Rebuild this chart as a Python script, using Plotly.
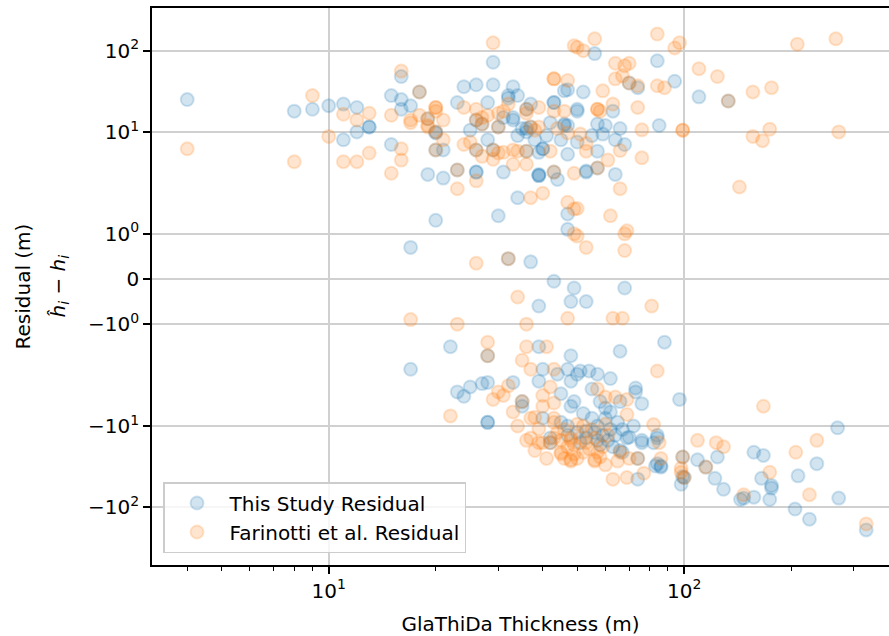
import math
import plotly.graph_objects as go

# ---------------- data ----------------
blue_x = [4, 8, 9, 10, 11, 12, 13, 13, 12, 11, 15, 16, 16, 17, 16, 15, 18, 19, 21, 20, 17, 20, 21, 20,
          24, 26, 29, 29, 23, 28, 25, 28, 23, 26, 26, 31, 34, 30, 32, 33, 34, 47, 50, 43, 43, 42, 47, 36,
          36, 37, 33, 39, 47, 47, 37, 56, 84, 74, 94, 52, 46, 63, 50, 110, 133, 57, 66, 85, 59, 64,
          68, 57, 57, 64, 53, 50, 70, 32, 36, 33, 35, 37, 46, 40, 40, 47, 39, 39, 44, 53, 19, 20, 26, 27,
          30, 32, 46, 26, 29, 36, 39, 43, 31, 34, 41, 45, 38, 55, 60,
          17, 22, 28, 23, 24, 25, 27, 28, 33, 28, 28, 39, 48, 35, 39, 40, 44, 47, 50, 45, 48, 66, 88, 51,
          54, 57, 62, 55, 73, 73, 66, 76, 97, 58, 62, 60, 49, 69, 76, 84, 82, 67, 74, 83, 86, 74, 99, 99,
          98, 109, 115, 124, 122, 129, 53, 59, 63, 68, 49, 48, 53, 39, 43, 270, 157, 167, 236, 209, 165,
          176, 176, 174, 157, 147, 144, 205, 225, 272, 325, 100, 35, 48, 60, 57, 53, 47, 70, 76, 84, 86,
          84, 66, 57, 42, 40, 42, 45, 50, 55, 62, 65, 52, 58, 72, 51, 56, 61, 64, 47, 67]
blue_y = [25, 18, 19, 21, 22, 20, 11.5, 11.5, 10, 8, 28, 48, 25, 21, 19, 7, 31, 3, 2.7, 1.3, 0.7, 9.7, 6, 6,
          36, 38, 72, 38, 23, 23, 10.5, 8, 3.4, 3.2, 3.2, 3.2, 1.8, 1.4, 0.45, 36, 28, 33, 19, 23, 23, 13, 12, 11,
          10, 22, 14, 3, 1.44, 1.1, 0.38, 92, 75, 35, 42, 31, 32, 18, 18, 27, 24, 12.5, 11, 12, 9.4, 8,
          7, 5.8, 3.6, 3.0, 3.2, 7.5, 40, 26, 19, 15, 11, 11.5, 12, 6.2, 6.2, 5.3, 2.9, 2.9, 2.6, 3.3, 14.5, 10, 14, 12.5,
          11.5, 28, 12.5, 6, 6, 5.8, 5.6, 3.2, 15, 9, 9, 8, 8, 9, 12,
          -2, -1.5, -1.7, -3.8, -4.3, -3.3, -3, -2.9, -2.9, -9, -9, -1.5, -1.7, -5, -2.8, -2, -2.3, -2, -2.3, -4, -2.8, -1.6, -1.4, -2.1,
          -2.1, -2.3, -2.6, -3.5, -3.4, -3.8, -5, -5.3, -4.7, -5, -6.7, -8, -5, -14, -15, -14, -16, -21, -25, -31, -31, -45, -24, -42,
          -52, -26, -32, -24, -44, -60, -14, -13, -18, -0.2, -0.2, -0.5, -0.5, -0.6, -0.05, -10.5, -21, -23, -29, -41, -44,
          -54, -58, -80, -75, -77, -80, -105, -140, -77, -190, -43, -5.7, -5.7, -6, -10, -11.5, -10, -13.7, -16, -13, -32,
          -29, -20, -15, -16, -8, -14, -9, -12, -8, -11, -9, -7, -17, -10, -16, -12, -15, -13, -13, -11]

orange_x = [4, 8, 9, 10, 11, 11, 12, 12, 13, 13, 15, 15, 16, 16, 16, 17, 17, 18, 19, 20, 20, 20, 21, 21,
            19, 23, 26, 24, 25, 24, 26, 27, 28, 30, 32, 27, 29, 30, 29, 26, 32, 33, 18, 20, 23, 43, 43, 47,
            49, 39, 43, 46, 36, 38, 37, 40, 47, 49, 49, 56, 50, 52, 84, 94, 97, 64, 68, 70, 64, 67, 70, 74,
            84, 88, 59, 63, 57, 57, 58, 74, 110, 124, 76, 99, 99, 66, 53, 61, 76, 57, 49, 66, 143, 50, 62,
            69, 68, 53, 68, 50, 133, 208, 267, 156, 176, 156, 174, 166, 272, 36, 39, 44, 47, 51, 37, 34, 36,
            42, 53, 36, 19, 20, 26, 27, 30, 31, 26, 29, 31, 33, 43,
            17, 23, 28, 28, 22, 29, 31, 32, 33, 34, 36, 41, 35, 37, 30, 40, 38, 43, 42, 40, 39, 40, 43, 43,
            42, 45, 48, 48, 84, 60, 69, 82, 85, 86, 109, 123, 129, 98, 63, 69, 77, 56, 50, 48, 59, 65, 52,
            47, 63, 67, 81, 36, 167, 236, 206, 174, 225, 325, 147, 98, 100, 74, 115, 35, 99, 37, 39, 43,
            45, 48, 52, 56, 57, 37, 53, 56, 60, 50, 43, 57, 64, 69, 66, 70, 34, 36, 38, 41, 45, 46, 49,
            44, 47, 51, 54, 58, 61, 55, 46, 49, 60]
orange_y = [6.2, 4.3, 28, 8.8, 16.5, 4.3, 4.3, 14, 17, 5.5, 16, 3.1, 6.2, 4.5, 56, 14, 13, 16, 12, 20, 20, 18, 14, 8,
            11.5, 2, 2.5, 7, 7.5, 20, 19, 15, 16, 17, 22, 5, 4.6, 5.5, 125, 0.35, 0.45, 4, 31, 6, 3.4, 45, 45, 43,
            115, 20, 18, 18, 17, 10.5, 1.8, 1.9, 1.7, 1.55, 1.0, 140, 110, 100, 160, 108, 125, 70, 65, 70, 45, 49, 40, 37,
            37, 35, 32, 22, 19, 19, 18, 20, 60, 48, 10.6, 10.5, 10.5, 5.9, 5.8, 4.5, 4.8, 3.6, 3.1, 2.0, 2.1, 1.56, 1.4,
            1.07, 1.0, 0.7, 0.63, 0.95, 24, 120, 140, 31, 35, 8.8, 10.8, 7.8, 10, 19, 11.5, 11, 9.7, 9.4, 11.5, 5.8, 5.8,
            5.8, 7.2, 4, 14.5, 10, 14, 12.5, 11.5, 18, 6, 6, 5.6, 6, 3.2,
            -0.9, -1.0, -1.4, -1.7, -7.5, -4.7, -4.2, -3.2, -6.7, -0.4, -1.5, -1.5, -1.8, -2, -3.8, -4.2, -7.8, -2, -3.3, -5.7, -10.8, -16, -5.2, -8,
            -16, -22, -27, -14, -2.1, -4.4, -7.2, -9.6, -16, -25, -15, -16, -18, -37, -45, -43, -38, -27, -25, -15, -18, -27, -10,
            -0.87, -0.87, -0.87, -0.6, -1.0, -5.7, -15, -21, -37, -70, -160, -70, -33, -43, -25, -32, -5, -24, -8, -16, -14,
            -21, -26, -21, -26, -21, -14, -16, -14, -9.5, -9.5, -9, -3.5, -4.4, -4.7, -21, -25, -10, -15, -20, -25, -15, -25, -22,
            -12, -18, -14, -19, -24, -13, -11, -11, -17, -30]

y_tick_values = [100, 10, 1, 0, -1, -10, -100]
y_tick_labels = ["10<sup>2</sup>", "10<sup>1</sup>", "10<sup>0</sup>", "0",
                 "\u221210<sup>0</sup>", "\u221210<sup>1</sup>", "\u221210<sup>2</sup>"]
x_tick_values = [10, 100]
x_tick_labels = ["10<sup>1</sup>", "10<sup>2</sup>"]
x_minor_values = [4, 5, 6, 7, 8, 9, 20, 30, 40, 50, 60, 70, 80, 90, 200, 300]

# symmetric-log scale (linthresh=2, linscale=1, base 10)
LINTHRESH = 2.0
LINSCALE_ADJ = 1.0 / (1.0 - 1.0 / 10.0)


def symlog(v):
    a = abs(v)
    if a <= LINTHRESH:
        return v * LINSCALE_ADJ / LINTHRESH
    s = 1 if v > 0 else -1
    return s * (LINSCALE_ADJ + math.log10(a / LINTHRESH))


FONT = "DejaVu Sans"
BLUE = "rgba(31,119,180,0.2)"
ORANGE = "rgba(255,127,14,0.2)"

fig = go.Figure()
fig.add_trace(go.Scatter(
    x=blue_x, y=[symlog(v) for v in blue_y], mode="markers", name="This Study Residual",
    marker=dict(size=13, color=BLUE, line=dict(color=BLUE, width=2))))
fig.add_trace(go.Scatter(
    x=orange_x, y=[symlog(v) for v in orange_y], mode="markers", name="Farinotti et al. Residual",
    marker=dict(size=13, color=ORANGE, line=dict(color=ORANGE, width=2))))

W, H = 889, 636
ML, MR, MT, MB = 152, 0, 8, 71
pw = W - ML - MR

fig.update_layout(
    width=W, height=H,
    margin=dict(l=ML, r=MR, t=MT, b=MB, pad=0),
    paper_bgcolor="white", plot_bgcolor="white",
    font=dict(family=FONT, size=20, color="black"),
    showlegend=True,
    legend=dict(x=(163 - ML) / pw, y=(565 - 553) / (H - MT - MB), xanchor="left", yanchor="bottom",
                bgcolor="rgba(255,255,255,0.8)", bordercolor="#cccccc", borderwidth=1.5,
                font=dict(family=FONT, size=20, color="black"), itemwidth=55),
    xaxis=dict(
        type="log", range=[0.503, 2.576],
        tickmode="array", tickvals=x_tick_values, ticktext=x_tick_labels,
        ticks="outside", ticklen=7, tickwidth=1.5, tickcolor="black",
        showline=True, linecolor="black", linewidth=1.6, mirror=True,
        showgrid=True, gridcolor="#d0d0d0", gridwidth=1.5, zeroline=False,
        minor=dict(tickmode="array", tickvals=x_minor_values, ticks="outside", ticklen=4,
                   tickwidth=1.2, tickcolor="black", showgrid=False),
        title=dict(text="GlaThiDa Thickness (m)", font=dict(family=FONT, size=20), standoff=16),
        tickfont=dict(family=FONT, size=20),
    ),
    yaxis=dict(
        range=[-3.52, 3.335],
        tickmode="array", tickvals=[symlog(v) for v in y_tick_values], ticktext=y_tick_labels,
        ticks="outside", ticklen=7, tickwidth=1.5, tickcolor="black",
        showline=True, linecolor="black", linewidth=1.6, mirror=False,
        showgrid=True, gridcolor="#d0d0d0", gridwidth=1.5, zeroline=False,
        tickfont=dict(family=FONT, size=20),
    ),
    annotations=[
        dict(text="Residual (m)", xref="paper", yref="paper", x=(22 - ML) / pw, y=0.5,
             xanchor="center", yanchor="middle", textangle=-90, showarrow=False,
             font=dict(family=FONT, size=20, color="black")),
        dict(text="<i>\u0125<sub>i</sub></i> \u2212 <i>h<sub>i</sub></i>", xref="paper", yref="paper",
             x=(58 - ML) / pw, y=0.5, xanchor="center", yanchor="middle", textangle=-90,
             showarrow=False, font=dict(family=FONT, size=20, color="black")),
    ],
)

fig.write_html("out.html")
